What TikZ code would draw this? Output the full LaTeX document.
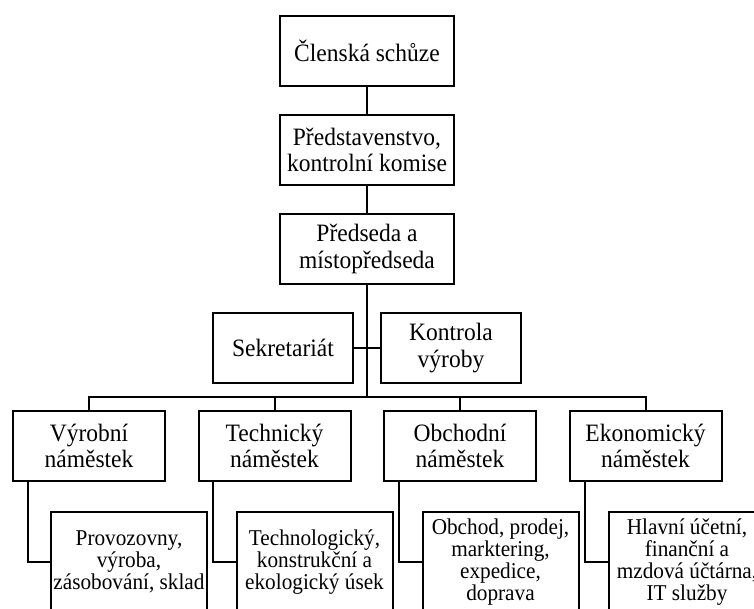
\documentclass[tikz,border=0pt]{standalone}
\usepackage{fontspec}
\setmainfont{Liberation Serif}[FakeStretch=0.94]
\usepackage{tikz}
\usetikzlibrary{positioning,calc}
\tikzset{
  every node/.style={font=\rmfamily}
}

\begin{document}
\begin{tikzpicture}[x=1pt,y=-1pt]
  \tikzset{
    unit/.style={
      draw,
      fill=white,
      line width=2pt,
      align=center,
      inner sep=0pt,
      minimum width=174pt,
      minimum height=70pt,
      font=\fontsize{25}{26.5}\selectfont
    },
    staff/.style={unit, minimum width=140pt},
    deputy/.style={unit, minimum width=152pt},
    section/.style={
      unit,
      minimum width=156pt,
      minimum height=101pt,
      font=\fontsize{22.6}{22}\selectfont
    },
    link/.style={
      draw=black,
      line width=2pt
    }
  }

  \useasboundingbox (0,0) rectangle (754,608);
  \clip (0,0) rectangle (754,608);

  \node[unit] (schuze) at (367,50.5) {Členská schůze};
  \node[unit] (predst) at (367,150) {Představenstvo,\\kontrolní komise};
  \node[unit] (predseda) at (367,249) {Předseda a\\místopředseda};

  \node[staff] (sekr) at (283,348) {Sekretariát};
  \node[staff] (kontr) at (451,348) {Kontrola\\výroby};

  \coordinate (bus) at (367,397);

  \node[deputy] (vyr) at (89,446) {Výrobní\\náměstek};
  \node[deputy] (tech) at (274.5,446) {Technický\\náměstek};
  \node[deputy] (obch) at (460,446) {Obchodní\\náměstek};
  \node[deputy] (eko) at (645.5,446) {Ekonomický\\náměstek};

  \node[section] (provoz) at (129,562) {Provozovny,\\výroba,\\zásobování, sklad};
  \node[section] (useky) at (314.5,562) {Technologický,\\konstrukční a\\ekologický úsek};
  \node[section] (prodej) at (500.5,562) {Obchod, prodej,\\marktering,\\expedice,\\doprava};
  \node[section] (ucetni) at (687,562) {Hlavní účetní,\\finanční a\\mzdová účtárna,\\IT služby};

  \draw[link] (schuze) -- (predst);
  \draw[link] (predst) -- (predseda);
  \draw[link] (predseda) -- (bus);
  \draw[link] (sekr) -- (kontr);

  \foreach \n in {vyr,tech,obch,eko}
    \draw[link] (bus) -| (\n.north);

  \draw[link] ($(vyr.south west)+(16,0)$) |- (provoz.west);
  \draw[link] ($(tech.south west)+(15.5,0)$) |- (useky.west);
  \draw[link] ($(obch.south west)+(15.5,0)$) |- (prodej.west);
  \draw[link] ($(eko.south west)+(16,0)$) |- (ucetni.west);
\end{tikzpicture}
\end{document}
